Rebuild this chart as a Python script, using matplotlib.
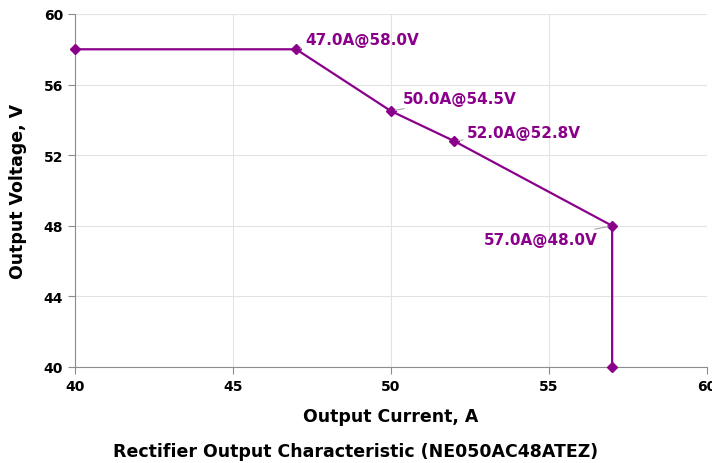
import matplotlib.pyplot as plt

current = [40, 47, 50, 52, 57, 57]
voltage = [58, 58, 54.5, 52.8, 48, 40]
labelled = [1, 2, 3, 4]  # points with a value label
label_offsets = {1: (6.5, 7), 2: (8.6, 9.4), 3: (9.4, 6.5), 4: (-10.8, -10)}

xticks = [40, 45, 50, 55, 60]
yticks = [40, 44, 48, 52, 56, 60]

purple = '#8B008B'
plt.rcParams['font.family'] = ['DejaVu Sans']
plt.rcParams['font.weight'] = 'bold'

fig = plt.figure(figsize=(7.12, 4.64), dpi=100)
ax = fig.add_axes([0.1053, 0.2069, 0.8876, 0.7608])

ax.plot(current, voltage, color=purple, lw=1.6, marker='D', ms=5.5, clip_on=False, zorder=3)

for i in labelled:
  dx, dy = label_offsets[i]
  ha = 'left' if dx > 0 else 'right'
  ax.annotate('%.1fA@%.1fV' % (current[i], voltage[i]), (current[i], voltage[i]),
              xytext=(dx, dy), textcoords='offset points', ha=ha, va='center',
              color=purple, fontsize=11, fontweight='bold',
              arrowprops=dict(arrowstyle='-', color='#a8a8a8', lw=0.8,
                              shrinkA=1, shrinkB=3))

ax.set_xlim(40, 60)
ax.set_ylim(40, 60)
ax.set_xticks(xticks)
ax.set_yticks(yticks)
ax.grid(True, color='#e3e3e3', lw=0.8)
ax.set_axisbelow(True)
for side in ['top', 'right']:
  ax.spines[side].set_visible(False)
for side in ['left', 'bottom']:
  ax.spines[side].set_color('#8c8c8c')
ax.tick_params(colors='#8c8c8c', labelcolor='black', labelsize=10, length=5, width=0.8)
for t in ax.get_xticklabels() + ax.get_yticklabels():
  t.set_fontweight('bold')

ax.set_xlabel('Output Current, A', fontsize=12.5, fontweight='bold', labelpad=10)
ax.set_ylabel('Output Voltage, V', fontsize=12.5, fontweight='bold', labelpad=12)
fig.text(0.5, 0.026, 'Rectifier Output Characteristic (NE050AC48ATEZ)', ha='center',
         va='center', fontsize=12.5, fontweight='bold')

fig.savefig('out.png', dpi=100)
